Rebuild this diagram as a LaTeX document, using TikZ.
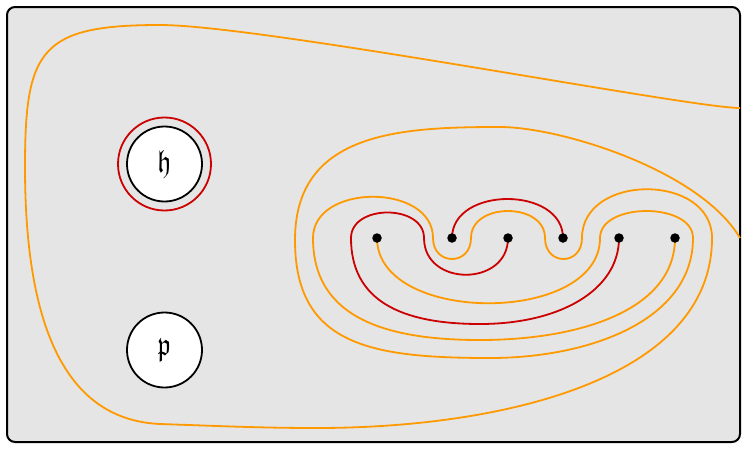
\documentclass[tikz,border=0pt]{standalone}
\usepackage{amssymb}
\definecolor{myorange}{RGB}{255,153,0}
\definecolor{myred}{RGB}{204,0,0}
\definecolor{bgfill}{RGB}{229,229,229}
\tikzset{
  frame/.style={draw=black, line width=2pt, fill=bgfill, rounded corners=8pt},
  orangeline/.style={draw=myorange, line width=1.8pt},
  redline/.style={draw=myred, line width=1.8pt},
  dotnode/.style={circle, fill=black, inner sep=0pt, minimum size=9.5pt},
  algnode/.style={circle, draw=black, fill=white, line width=1.8pt, inner sep=0pt, minimum size=75pt}
}
\begin{document}
\begin{tikzpicture}[x=1pt,y=-1pt]
\useasboundingbox (0,0) rectangle (747,450);
\draw[frame] (7,7) rectangle (740,442);
\coordinate (fr1) at (740,108);
\coordinate (fr2) at (740,238);
% dots (positions only)
\path (377,238) coordinate (d1) (452,238) coordinate (d2) (508,238) coordinate (d3)
      (563,238) coordinate (d4) (619,238) coordinate (d5) (675,238) coordinate (d6);
% outer orange curve
\draw[orangeline] (fr1) .. controls (690,108) and (260,25) .. (160,25)
  .. controls (40,25) and (25,50) .. (25,167)
  .. controls (25,335) and (70,420) .. (160,424)
  .. controls (220,426) and (260,428) .. (317,428)
  .. controls (500,428) and (712,380) .. (712,238)
  .. controls (712,173) and (582,173) .. (582,238)
  .. controls (582,266) and (545,266) .. (545,238)
  .. controls (545,202) and (471,202) .. (471,238)
  .. controls (471,266) and (433,266) .. (433,238)
  .. controls (433,183) and (313,183) .. (313,238)
  .. controls (313,320) and (390,340) .. (480,340)
  .. controls (580,340) and (675,310) .. (d6);
% second orange curve
\draw[orangeline] (fr2) .. controls (700,170) and (560,127) .. (500,127)
  .. controls (400,127) and (295,132) .. (295,240)
  .. controls (295,345) and (370,358) .. (490,358)
  .. controls (590,358) and (693,320) .. (693,238)
  .. controls (693,202) and (600,202) .. (600,238)
  .. controls (600,325) and (377,325) .. (d1);
% red curves
\draw[redline] (d2) .. controls (452,186) and (563,186) .. (d4);
\draw[redline] (d3) .. controls (508,287) and (424,287) .. (424,238)
  .. controls (424,204) and (351,204) .. (351,238)
  .. controls (351,300) and (400,324) .. (480,324)
  .. controls (560,324) and (619,290) .. (d5);
% dots
\foreach \n in {d1,d2,d3,d4,d5,d6} \node[dotnode] (n\n) at (\n) {};
% algebra circles
\node[algnode] (h) at (164.5,164) {\scalebox{2.7}[3.2]{$\mathfrak{h}$}};
\node[algnode] (p) at (164.5,350) {\scalebox{2.7}[3.2]{$\mathfrak{p}$}};
\draw[redline] (h.center) circle[radius=46.5pt];
\end{tikzpicture}
\end{document}
